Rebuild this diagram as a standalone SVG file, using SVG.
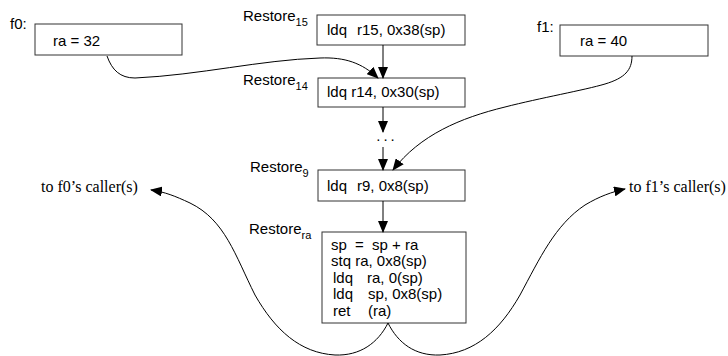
<svg xmlns="http://www.w3.org/2000/svg" width="728" height="356" viewBox="0 0 728 356">
<style>
.box{fill:#fff;stroke:#333;stroke-width:1}
.t{font-family:"Liberation Sans",Arial,sans-serif;font-size:15px;fill:#000}
.sub{font-family:"Liberation Sans",Arial,sans-serif;font-size:11px;fill:#000}
.s{font-family:"Liberation Serif","Times New Roman",serif;font-size:16px;fill:#000}
.c{fill:none;stroke:#000;stroke-width:1}
</style>
<defs>
<marker id="ah" markerUnits="userSpaceOnUse" markerWidth="12" markerHeight="10" viewBox="0 0 12 10" refX="11" refY="5" orient="auto">
<path d="M0,0 L12,5 L0,10 Z" fill="#000"/>
</marker>
</defs>
<rect width="728" height="356" fill="#fff"/>
<g id="f0">
<text class="t" x="10" y="29">f0:</text>
<rect class="box" x="35" y="24" width="147" height="31"/>
<text class="t" x="53" y="46">ra = 32</text>
</g>
<g id="f1">
<text class="t" x="537" y="32">f1:</text>
<rect class="box" x="560" y="25" width="148" height="31"/>
<text class="t" x="580" y="46">ra = 40</text>
</g>
<g id="restore15">
<text class="t" x="243" y="21">Restore<tspan class="sub" dy="5">15</tspan></text>
<rect class="box" x="317" y="15" width="148" height="30"/>
<text class="t" y="35"><tspan x="327">ldq</tspan><tspan x="357">r15, 0x38(sp)</tspan></text>
</g>
<g id="restore14">
<text class="t" x="243" y="85">Restore<tspan class="sub" dy="5">14</tspan></text>
<rect class="box" x="318" y="78" width="147" height="29"/>
<text class="t" x="327" y="97">ldq r14, 0x30(sp)</text>
</g>
<g id="dots">
<text class="t" x="387" y="141" text-anchor="middle" letter-spacing="3">...</text>
</g>
<g id="restore9">
<text class="t" x="250" y="172">Restore<tspan class="sub" dy="5">9</tspan></text>
<rect class="box" x="318" y="170" width="147" height="31"/>
<text class="t" y="191"><tspan x="327">ldq</tspan><tspan x="357">r9, 0x8(sp)</tspan></text>
</g>
<g id="restorera">
<text class="t" x="249" y="234">Restore<tspan class="sub" dy="5">ra</tspan></text>
<rect class="box" x="322" y="232" width="144" height="91"/>
<text class="t" y="250"><tspan x="331">sp</tspan><tspan x="355">=</tspan><tspan x="372">sp + ra</tspan></text>
<text class="t" x="331" y="266">stq ra, 0x8(sp)</text>
<text class="t" y="283"><tspan x="333">ldq</tspan><tspan x="367">ra, 0(sp)</tspan></text>
<text class="t" y="299"><tspan x="333">ldq</tspan><tspan x="368">sp, 0x8(sp)</tspan></text>
<text class="t" y="316"><tspan x="333">ret</tspan><tspan x="368">(ra)</tspan></text>
</g>
<g id="callers">
<text class="s" x="41" y="192">to f0’s caller(s)</text>
<text class="s" x="629" y="192">to f1’s caller(s)</text>
</g>
<g id="connectors">
<path class="c" d="M383,45 L383,78" marker-end="url(#ah)"/>
<path class="c" d="M383,107 L383,132" marker-end="url(#ah)"/>
<path class="c" d="M383,147 L383,170" marker-end="url(#ah)"/>
<path class="c" d="M383,201 L383,232" marker-end="url(#ah)"/>
<path class="c" d="M107,56 C112,70 120,78 135,78 C200,75 260,60 320,58 C345,57 362,63 378,78" marker-end="url(#ah)"/>
<path class="c" d="M632,56 C632,70 625,78 605,84 C585,90 540,98 505,107 C460,118 420,135 393,170" marker-end="url(#ah)"/>
<path class="c" d="M388,323 C378,343 360,356 335,355 C300,353 275,330 255,295 C235,255 225,220 190,203 C175,196 165,192 151,190" marker-end="url(#ah)"/>
<path class="c" d="M388,323 C398,343 415,356 440,355 C475,353 500,330 520,295 C540,258 555,225 585,205 C600,196 612,192 625,189" marker-end="url(#ah)"/>
</g>
</svg>
